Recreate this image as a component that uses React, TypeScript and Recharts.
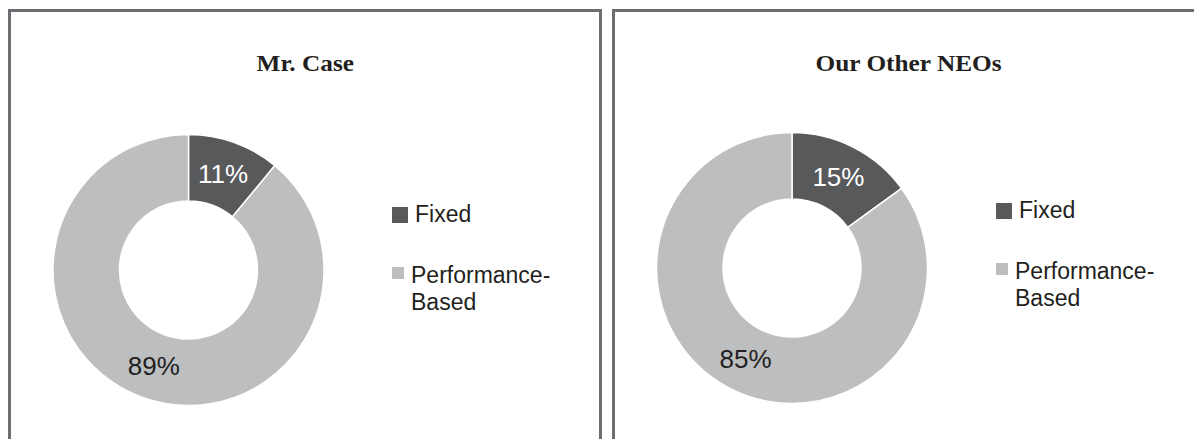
import React from 'react';
import { PieChart, Pie, Cell, Legend } from 'recharts';

const categories = ['Fixed', 'Performance-Based'];
const caseValues = [11, 89];
const neoValues = [15, 85];
const titles = ['Mr. Case', 'Our Other NEOs'];
const sliceColors = ['#58595b', '#bcbec0'];
const labelColors = ['#ffffff', '#231f20'];

const RADIAN = Math.PI / 180;
const SANS = '"Liberation Sans", Arial, sans-serif';
const SERIF = '"Liberation Serif", "Times New Roman", serif';

const renderLabel = (props: any) => {
  const { cx, cy, midAngle, innerRadius, outerRadius, index, value } = props;
  const r = (innerRadius + outerRadius) / 2;
  const x = cx + r * Math.cos(-midAngle * RADIAN);
  const y = cy + r * Math.sin(-midAngle * RADIAN);
  return (
    <text
      x={x}
      y={y}
      fill={labelColors[index]}
      textAnchor="middle"
      dominantBaseline="central"
      fontFamily={SANS}
      fontSize={26}
    >
      {`${value}%`}
    </text>
  );
};

const LegendContent = (props: any) => {
  const { payload } = props;
  const items = payload || [];
  const squareSizes = [16, 12];
  const rowTops = [0, 61];
  const squareTops = [6, 66];
  const textLefts = [23, 19];
  return (
    <div style={{ position: 'relative', width: 200, height: 120 }}>
      {items.map((entry: any, i: number) => {
        const words = String(entry.value).split('-');
        const lines = words.length > 1 ? [words[0] + '-', words.slice(1).join('-')] : [entry.value];
        return (
          <div key={i}>
            <div
              style={{
                position: 'absolute',
                left: 0,
                top: squareTops[i],
                width: squareSizes[i],
                height: squareSizes[i],
                background: entry.color,
              }}
            />
            <div
              style={{
                position: 'absolute',
                left: textLefts[i],
                top: rowTops[i],
                fontFamily: SANS,
                fontSize: 23,
                lineHeight: '27px',
                color: '#231f20',
                whiteSpace: 'nowrap',
              }}
            >
              {lines.map((l: string, k: number) => (
                <div key={k}>{l}</div>
              ))}
            </div>
          </div>
        );
      })}
    </div>
  );
};

const Donut = ({ values, cx, cy, legendTop }: { values: number[]; cx: number; cy: number; legendTop: number }) => {
  const data = categories.map((name, i) => ({ name, value: values[i] }));
  return (
    <PieChart width={594} height={430} margin={{ top: 0, right: 0, bottom: 0, left: 0 }}>
      <Pie
        data={data}
        dataKey="value"
        nameKey="name"
        cx={cx}
        cy={cy}
        innerRadius={69}
        outerRadius={135.5}
        startAngle={90}
        endAngle={-270}
        stroke="#ffffff"
        strokeWidth={1.5}
        label={renderLabel}
        labelLine={false}
        isAnimationActive={false}
      >
        {data.map((d, i) => (
          <Cell key={d.name} fill={sliceColors[i]} />
        ))}
      </Pie>
      <Legend
        layout="vertical"
        align="right"
        verticalAlign="top"
        content={<LegendContent />}
        wrapperStyle={{ left: 384, top: legendTop, width: 200, height: 120 }}
      />
    </PieChart>
  );
};

const Panel = ({ left, title, values, cx, cy, legendTop }: any) => (
  <>
    <div
      style={{
        position: 'absolute',
        left,
        top: 9,
        width: 594,
        height: 500,
        boxSizing: 'border-box',
        border: '3px solid #6d6e71',
        borderBottom: 'none',
      }}
    />
    <div style={{ position: 'absolute', left, top: 9, width: 594, height: 430 }}>
      <Donut values={values} cx={cx} cy={cy} legendTop={legendTop} />
    </div>
    <div
      style={{
        position: 'absolute',
        left,
        top: 50,
        width: 594,
        textAlign: 'center',
        fontFamily: SERIF,
        fontWeight: 'bold',
        fontSize: 23,
        lineHeight: '27px',
        color: '#231f20',
      }}
    >
      <span style={{ display: 'inline-block', transform: 'scaleX(1.1)' }}>{title}</span>
    </div>
  </>
);

export default function App() {
  return (
    <div
      style={{
        position: 'fixed',
        left: 0,
        top: 0,
        width: 1194,
        height: 439,
        overflow: 'hidden',
        background: '#ffffff',
      }}
    >
      <Panel left={8} title={titles[0]} values={caseValues} cx={180.5} cy={261} legendTop={192} />
      <Panel left={612} title={titles[1]} values={neoValues} cx={180} cy={259} legendTop={188} />
    </div>
  );
}
